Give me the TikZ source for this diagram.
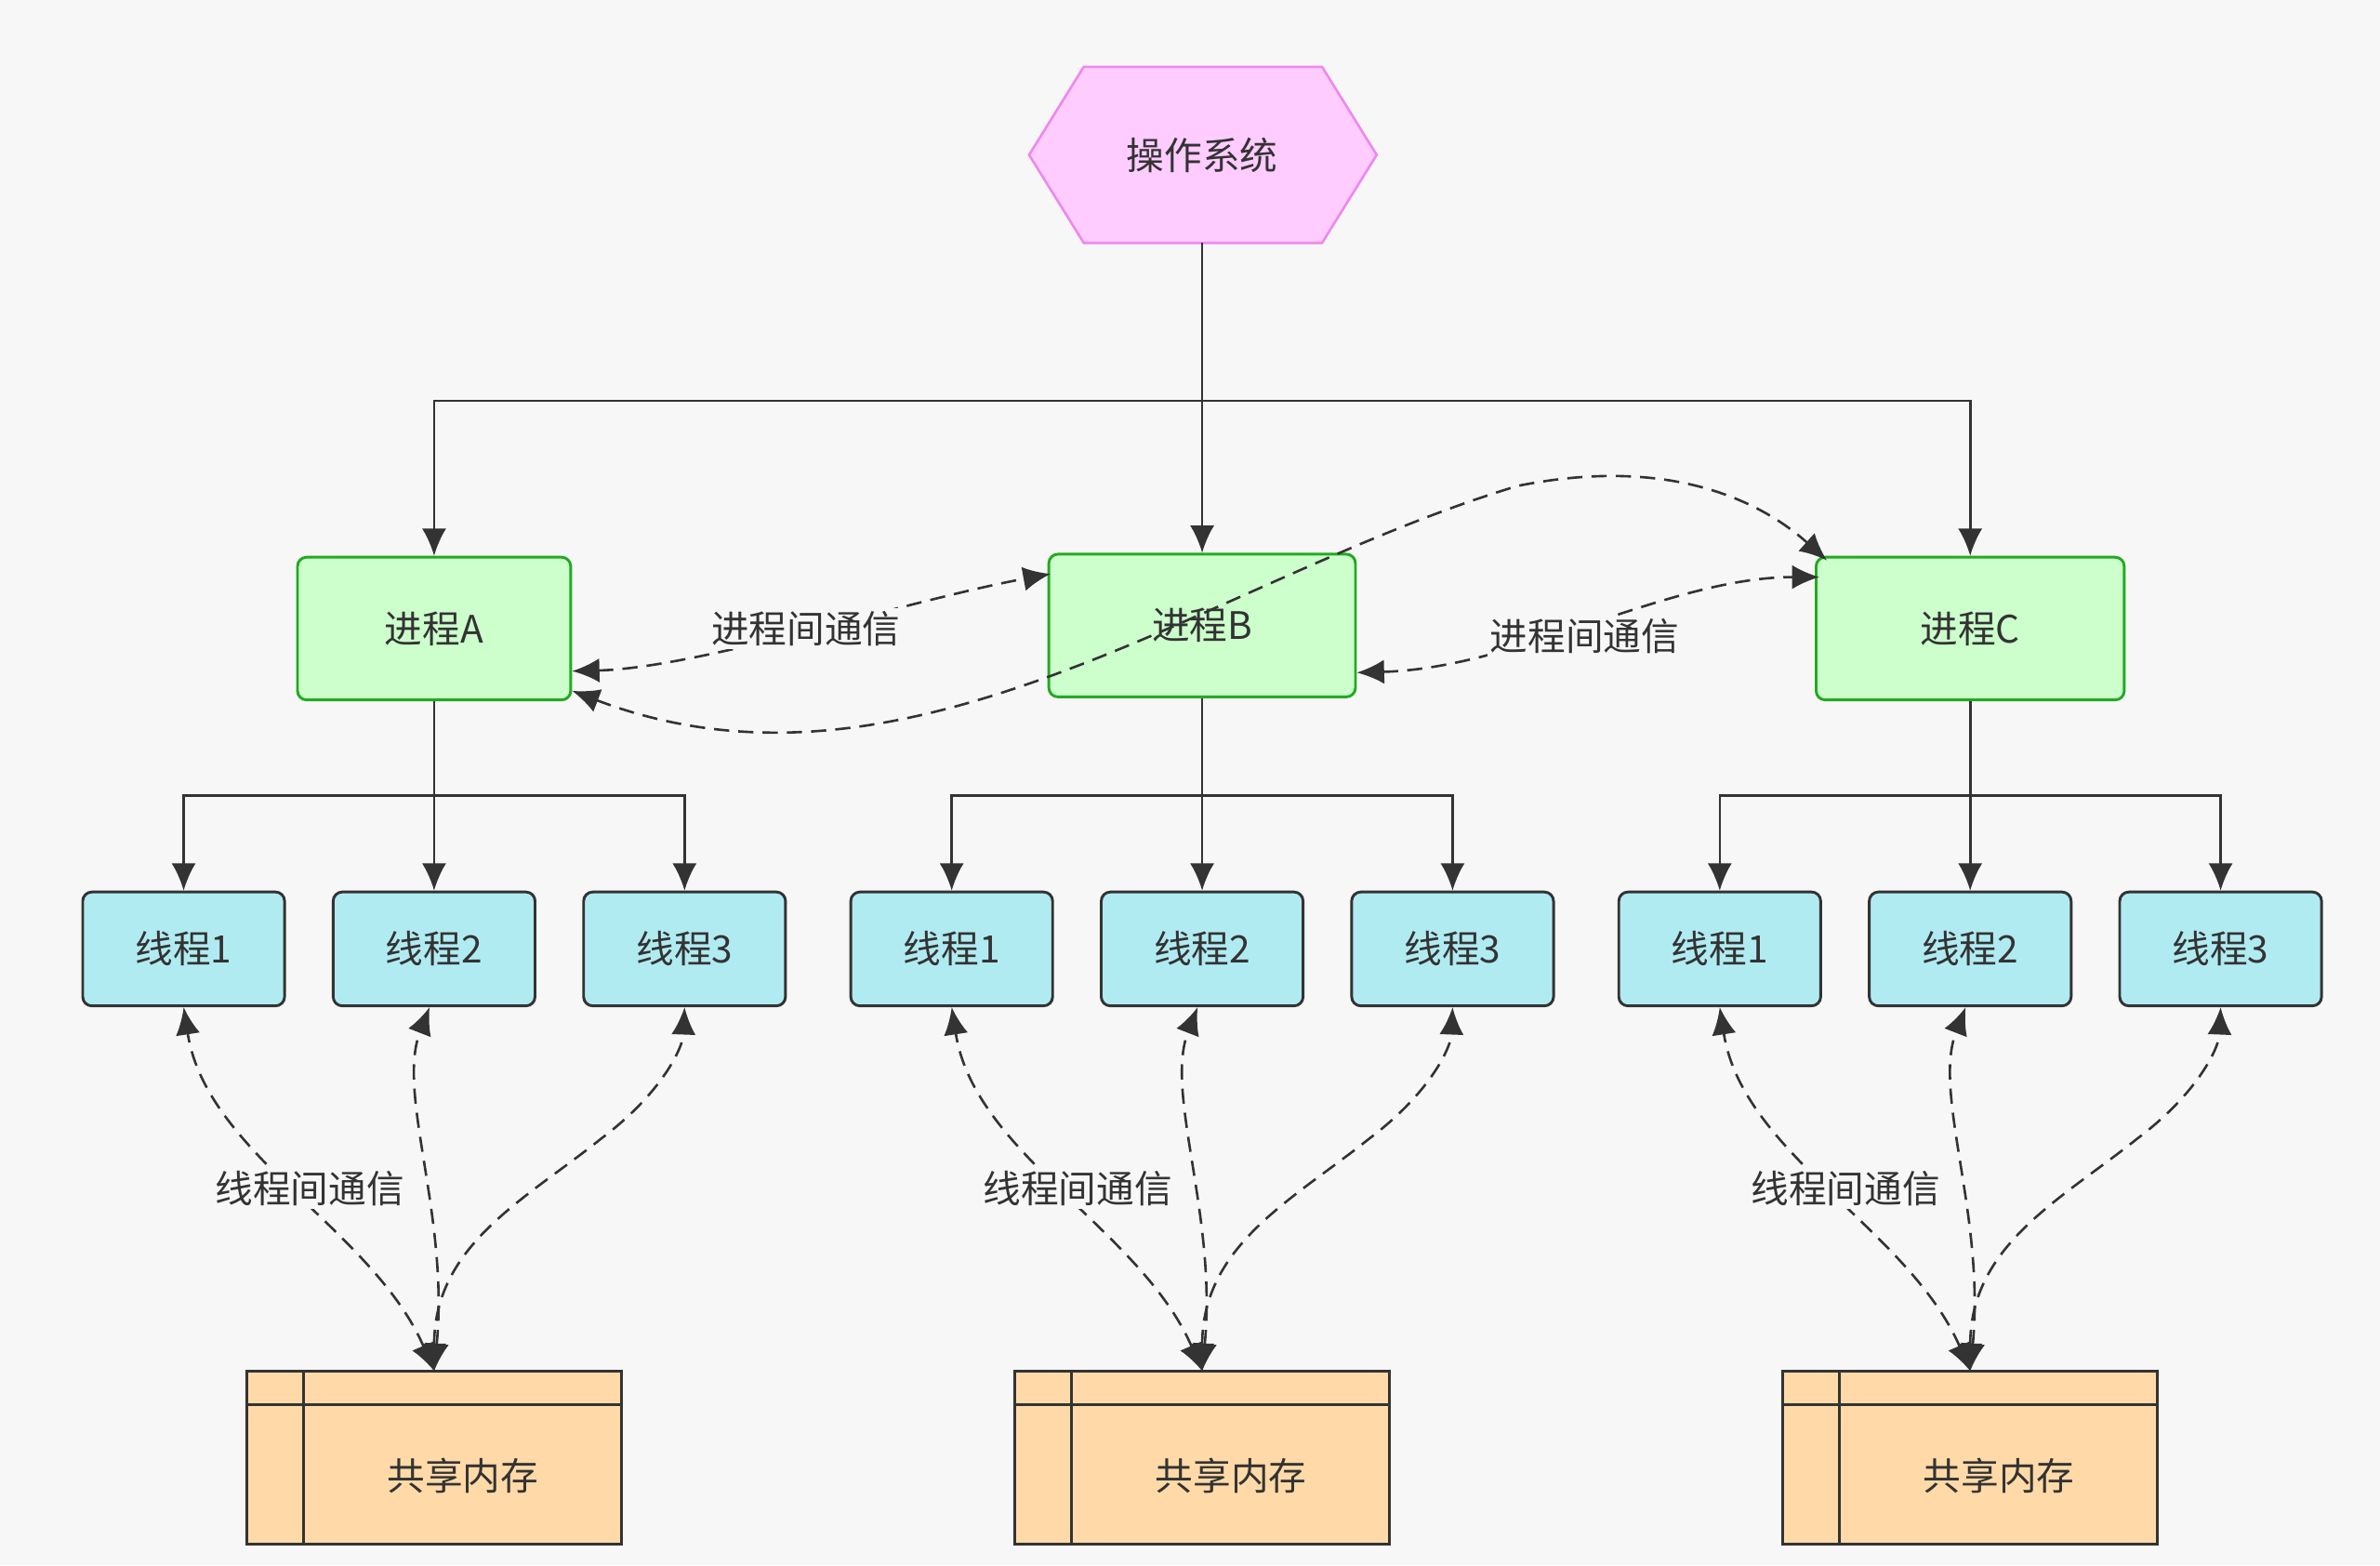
\documentclass[tikz,border=0pt]{standalone}
\usepackage{fontspec}
\setmainfont{Noto Sans CJK SC}
\usetikzlibrary{arrows.meta,positioning,shapes.geometric}
\definecolor{osfill}{HTML}{FFCCFF}
\definecolor{osline}{HTML}{EE88EE}
\definecolor{procfill}{HTML}{CCFFCC}
\definecolor{procline}{HTML}{22AA22}
\definecolor{thrfill}{HTML}{B1EBF2}
\definecolor{memfill}{HTML}{FFDAA8}
\definecolor{ink}{HTML}{333333}
\tikzset{
  proc/.style={draw=procline,fill=procfill,rounded corners=3bp,line width=0.9bp,minimum height=47bp},
  thr/.style={draw=ink,fill=thrfill,rounded corners=3bp,line width=0.9bp,minimum width=66.5bp,minimum height=37.5bp},
  mem/.style={draw=ink,fill=memfill,line width=0.9bp,minimum width=123.5bp,minimum height=57bp},
  link/.style={draw=ink,line width=0.8bp,-{Latex[length=9bp,width=8bp]}},
  talk/.style={draw=ink,line width=0.8bp,dash pattern=on 5bp off 3bp,{Latex[length=9bp,width=8bp]}-{Latex[length=9bp,width=8bp]}},
  lbl/.style={text=ink,fill=white!97!black,inner sep=1bp}
}
\begin{document}
\begin{tikzpicture}[x=0.5bp,y=-0.5bp,font=\fontsize{12.5}{14}\selectfont,text=ink]
  \fill[white!97!black] (0,0) rectangle (1568,1031);
  \useasboundingbox (0,0) rectangle (1568,1031);
  % operating system
  \fill[osfill,draw=osline,line width=0.8bp] (678,102) -- (714,44) -- (871,44) -- (907,102) -- (871,160) -- (714,160) -- cycle;
  \node (os) at (792,102) {操作系统};
  \coordinate (osb) at (792,160);
  % processes
  \node[proc,minimum width=90bp] (pA) at (286,414) {进程A};
  \node[proc,minimum width=101bp] (pB) at (792,412) {进程B};
  \node[proc,minimum width=101.5bp] (pC) at (1298,414) {进程C};
  \draw[link] (osb) -- (pB.north);
  \draw[link] (osb) -- (792,264) -| (pA.north);
  \draw[link] (osb) -- (792,264) -| (pC.north);
  % threads and shared memory
  \foreach \p/\x in {A/286,B/792,C/1298}{
    \node[thr] (t\p1) at (\x-165,625) {线程1};
    \node[thr] (t\p2) at (\x,625) {线程2};
    \node[thr] (t\p3) at (\x+165,625) {线程3};
    \node[mem] (m\p) at (\x,960) {};
    \draw[ink,line width=0.9bp] (\x-86,903) -- (\x-86,1017) (\x-124,925) -- (\x+124,925);
    \node at (\x+19,972) {共享内存};
    \draw[link] (p\p.south) -- (t\p2.north);
    \draw[link] (p\p.south) -- (\x,524) -| (t\p1.north);
    \draw[link] (p\p.south) -- (\x,524) -| (t\p3.north);
    \coordinate (mt\p) at (\x,903);
    \draw[talk] (mt\p) .. controls (\x-40,810) and (\x-150,760) .. (t\p1.south);
    \draw[talk] (mt\p) .. controls (\x+10,800) and (\x-25,720) .. ([xshift=-1.5bp]t\p2.south);
    \draw[talk] (mt\p) .. controls (\x,820) and (\x+60,790) .. (\x+110,750) .. controls (\x+150,720) and (\x+164,690) .. (t\p3.south);
    \node[lbl] at (\x-82,783) {线程间通信};
  }
  % inter-process communication
  \draw[talk] ([yshift=-14bp]pA.east) .. controls (460,440) and (600,395) .. ([xshift=1bp,yshift=17bp]pB.west);
  \node[lbl] at (531,414) {进程间通信};
  \draw[talk] ([yshift=-20.5bp]pA.east) .. controls (600,540) and (800,380) .. (1000,320) .. controls (1100,300) and (1160,330) .. ([xshift=4bp,yshift=-1.5bp]pC.north west);
  \draw[talk] ([yshift=-15.5bp]pB.east) .. controls (1000,440) and (1100,380) .. ([xshift=1.5bp,yshift=-7bp]pC.north west);
  \node[lbl] at (1044,419) {进程间通信};
\end{tikzpicture}
\end{document}
